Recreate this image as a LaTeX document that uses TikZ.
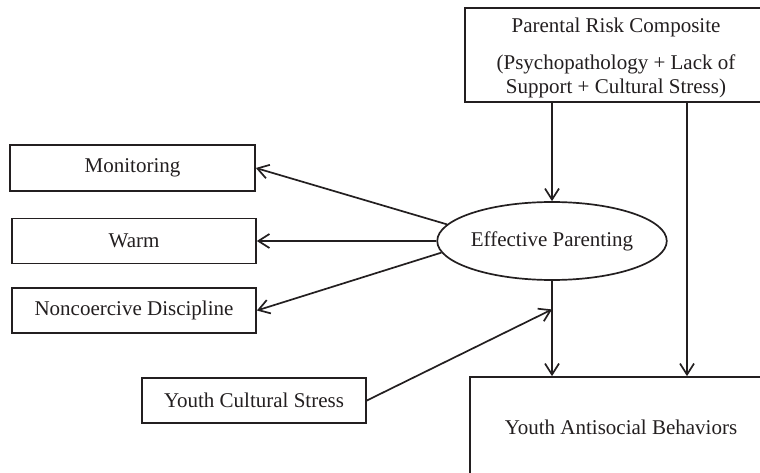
\documentclass[tikz,border=0pt]{standalone}
\usepackage{fontspec}
\setmainfont{Liberation Serif}
\usetikzlibrary{arrows.meta,shapes.geometric,calc}
\definecolor{ink}{RGB}{35,31,32}
\begin{document}
\begin{tikzpicture}[x=1pt,y=-1pt,
  every node/.style={text=ink,font=\fontsize{21}{24}\selectfont},
  box/.style={draw=ink,line width=1.7pt,rectangle,inner sep=0pt,align=center},
  arr/.style={draw=ink,line width=1.7pt,-{Straight Barb[length=11pt,width=14pt,line width=1.7pt]}}]
\useasboundingbox (0,0) rectangle (760,473);
\fill[white] (0,0) rectangle (760,473);
% nodes
\node[box,minimum width=302pt,minimum height=94pt] (pr) at (616,55) {};
\node (prt1) at (616,27) {Parental Risk Composite};
\node[align=center] (prt2) at (616,76) {(Psychopathology + Lack of\\Support + Cultural Stress)};
\node[box,minimum width=245pt,minimum height=46pt] (mon) at (132.5,168) {Monitoring};
\node[box,minimum width=244pt,minimum height=45pt] (warm) at (134,241) {Warm};
\node[box,minimum width=244pt,minimum height=45pt] (nonc) at (134,310.5) {Noncoercive Discipline};
\node[draw=ink,line width=1.7pt,ellipse,inner sep=0pt,minimum width=210pt,minimum height=78pt] (ep) at (552,241) {Effective Parenting};
\node[box,minimum width=224pt,minimum height=45pt] (ycs) at (254,400.5) {Youth Cultural Stress};
\node[box,minimum width=302pt,minimum height=100pt] (ya) at (621,427) {Youth Antisocial Behaviors};
\coordinate (rx) at (687,0);
\coordinate (mid) at ($(ep.south)!0.3!(ep.south |- ya.north)$);
% connectors
\draw[arr] (pr.south -| ep.north) -- (ep.north);
\draw[arr] (pr.south -| rx) -- (ya.north -| rx);
\draw[arr] (ep.south) -- (ep.south |- ya.north);
\draw[arr] (ycs.east) -- (mid);
\draw[arr] (ep.171) -- (mon.east);
\draw[arr] (ep.180) -- (warm.east);
\draw[arr] (ep.186) -- (nonc.east);
\end{tikzpicture}
\end{document}
